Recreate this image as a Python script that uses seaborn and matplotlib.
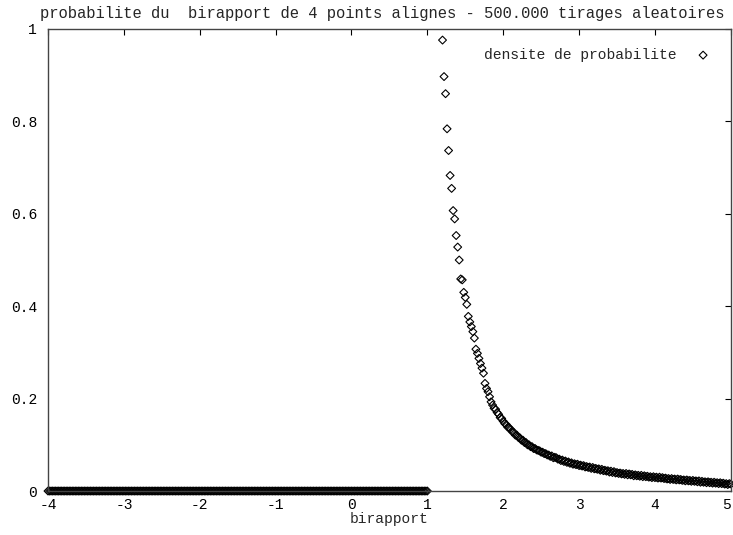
import numpy as np
import pandas as pd
import seaborn as sns
import matplotlib.pyplot as plt

# zero part of the density (birapport below 1)
x_zero = np.round(np.arange(-4.0, 1.0001, 0.02), 2)
y_zero = [0.0] * len(x_zero)

# positive part, bins of 0.02 from 1.20 to 5.00
x_pos = np.round(np.arange(1.20, 5.0001, 0.02), 2)
y_pos = [
    0.976, 0.897, 0.860, 0.784, 0.737, 0.683, 0.655, 0.607, 0.589, 0.553,
    0.528, 0.500, 0.459, 0.457, 0.430, 0.419, 0.404, 0.378, 0.366, 0.356,
    0.345, 0.331, 0.307, 0.298, 0.287, 0.276, 0.266, 0.255, 0.233, 0.222,
    0.215, 0.204, 0.193, 0.186, 0.179,
    0.177, 0.170, 0.166, 0.159, 0.157, 0.151, 0.146, 0.144, 0.138, 0.137,
    0.133, 0.128, 0.127, 0.121, 0.121, 0.116, 0.115, 0.110, 0.110, 0.105,
    0.105, 0.100, 0.100, 0.096, 0.096, 0.092, 0.092, 0.089, 0.088, 0.087,
    0.084, 0.084, 0.081, 0.081, 0.078, 0.078, 0.075, 0.076, 0.072, 0.073,
    0.072, 0.069, 0.069, 0.066, 0.067, 0.064, 0.065, 0.062, 0.063, 0.060,
    0.061, 0.058, 0.059, 0.057, 0.058, 0.055, 0.056, 0.054, 0.055, 0.052,
    0.053, 0.051, 0.052, 0.049, 0.051, 0.048, 0.049, 0.047, 0.048, 0.045,
    0.047, 0.044, 0.045, 0.043, 0.044, 0.041, 0.043, 0.040, 0.042, 0.039,
    0.040, 0.038, 0.039, 0.037, 0.038, 0.036, 0.038, 0.035, 0.037, 0.035,
    0.036, 0.033, 0.035, 0.033, 0.034, 0.032, 0.034, 0.031, 0.033, 0.031,
    0.032, 0.030, 0.031, 0.029, 0.031, 0.029, 0.030, 0.028, 0.030, 0.028,
    0.029, 0.027, 0.028, 0.026, 0.027, 0.025, 0.027, 0.025, 0.026, 0.024,
    0.026, 0.024, 0.025, 0.023, 0.024, 0.022, 0.024, 0.022, 0.023, 0.021,
    0.023, 0.021, 0.022, 0.020, 0.022, 0.019, 0.021, 0.019, 0.020, 0.018,
    0.020, 0.018, 0.019, 0.017, 0.019, 0.017, 0.018, 0.016, 0.018, 0.016,
    0.017, 0.015, 0.016, 0.014, 0.016, 0.015,
]

x_ticks = [-4, -3, -2, -1, 0, 1, 2, 3, 4, 5]
y_ticks = [0, 0.2, 0.4, 0.6, 0.8, 1]
y_tick_labels = ["0", "0.2", "0.4", "0.6", "0.8", "1"]

df = pd.DataFrame({
    "birapport": np.concatenate([x_zero, x_pos]),
    "densite": np.concatenate([y_zero, y_pos]),
})

sns.set_style("white")
plt.rcParams["font.family"] = ["Liberation Mono", "DejaVu Sans Mono"]
plt.rcParams["axes.unicode_minus"] = False

fig = plt.figure(figsize=(7.33, 5.35), dpi=100)
ax = fig.add_axes([0.0655, 0.0822, 0.9315, 0.8636])

sns.scatterplot(data=df, x="birapport", y="densite", ax=ax, marker="D", s=16,
                facecolor="none", edgecolor="black", linewidth=0.8,
                clip_on=False, label="densite de probabilite")

ax.set_xlim(-4, 5)
ax.set_ylim(0, 1)
ax.set_xticks(x_ticks)
ax.set_yticks(y_ticks)
ax.set_yticklabels(y_tick_labels)
ax.tick_params(direction="in", length=4, width=0.8, top=True, right=True,
               labelsize=10.5, colors="black")
ax.tick_params(axis="x", pad=5)
ax.tick_params(axis="y", pad=8)
# keep the last x label inside the picture
ax.get_xticklabels()[-1].set_horizontalalignment("right")
for sp in ax.spines.values():
    sp.set_color("#444444")
    sp.set_linewidth(1.0)

ax.set_xlabel("birapport", fontsize=10.5, labelpad=0)
ax.set_ylabel("")
ax.set_title("probabilite du  birapport de 4 points alignes - 500.000 tirages aleatoires",
             fontsize=11.2, pad=8, x=0.49)

ax.legend(loc="upper right", frameon=False, markerfirst=False, fontsize=10.5,
          handletextpad=1.2, borderaxespad=0.9, handlelength=1.2)

fig.savefig("out.png", dpi=100)
